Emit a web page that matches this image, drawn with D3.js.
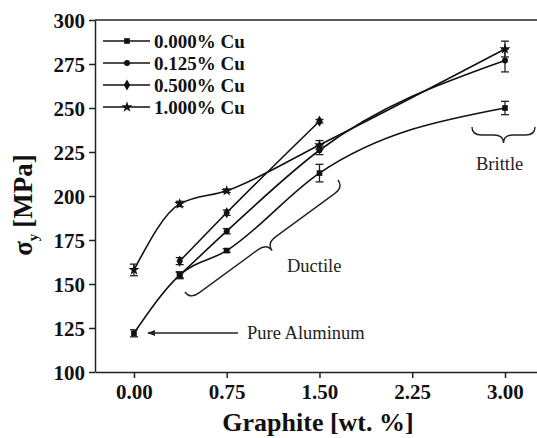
<!DOCTYPE html>
<html>
<head>
<meta charset="utf-8">
<script src="https://cdn.jsdelivr.net/npm/d3@7"></script>
<style>
  body { margin: 0; background: #fff; }
  svg { display: block; font-family: "Liberation Serif", "DejaVu Serif", serif; }
</style>
</head>
<body>
<svg width="537" height="438"></svg>
<script>
// values
const seriesNames = ["0.000% Cu", "0.125% Cu", "0.500% Cu", "1.000% Cu"];
const cu000X = [0, 0.37, 0.75, 1.5, 3.0];
const cu000Y = [122, 155, 169, 213, 250];
const cu000Err = [2, 1.5, 1, 5, 3.8];
const cu125X = [0.37, 0.75, 1.5, 3.0];
const cu125Y = [155, 180, 226, 277];
const cu125Err = [2, 1.5, 2.5, 6.5];
const cu500X = [0.37, 0.75, 1.5];
const cu500Y = [163, 190.5, 242.5];
const cu500Err = [2, 1.5, 1];
const cu100X = [0, 0.37, 0.75, 1.5, 3.0];
const cu100Y = [158, 195.5, 203, 229, 283.5];
const cu100Err = [3.3, 1.5, 1, 2.5, 4.5];
const xTicks = [0, 0.75, 1.5, 2.25, 3.0];
const yTicks = [100, 125, 150, 175, 200, 225, 250, 275, 300];

var svg = d3.select("svg");

var x = d3.scaleLinear().domain([-0.315, 3.283]).range([95, 540]);
var y = d3.scaleLinear().domain([100, 300]).range([372, 20]);

var symbols = [d3.symbolSquare, d3.symbolCircle, d3.symbolDiamond, d3.symbolStar];
var symSize = [32, 28, 36, 38];

var data = [
  [cu000X, cu000Y, cu000Err],
  [cu125X, cu125Y, cu125Err],
  [cu500X, cu500Y, cu500Err],
  [cu100X, cu100Y, cu100Err]
].map(function(s) {
  return s[0].map((v, i) => ({ x: v, y: s[1][i], e: s[2][i] }));
});

// frame (left, top) and axes
svg.append("line")
  .attr("x1", x.range()[0]).attr("x2", 537)
  .attr("y1", y(300)).attr("y2", y(300))
  .attr("stroke", "#222").attr("stroke-width", 1.5);

var yAxis = svg.append("g")
  .attr("transform", `translate(${x.range()[0]},0)`)
  .call(d3.axisLeft(y).tickValues(yTicks).tickSize(6).tickSizeOuter(0).tickPadding(4));

var xAxis = svg.append("g")
  .attr("transform", `translate(0,${y(100)})`)
  .call(d3.axisBottom(x).tickValues(xTicks).tickSize(6).tickSizeOuter(0).tickPadding(3)
    .tickFormat(d3.format(".2f")));

[xAxis, yAxis].forEach(function(a) {
  a.select(".domain").attr("stroke", "#222").attr("stroke-width", 1.5);
  a.selectAll(".tick line").attr("stroke", "#222").attr("stroke-width", 1.5);
  a.selectAll(".tick text")
    .attr("fill", "#111")
    .style("font-family", "Liberation Serif")
    .style("font-weight", "bold")
    .style("font-size", "21px");
});
yAxis.selectAll(".tick text").attr("dy", "0.36em");
xAxis.selectAll(".tick text").attr("dy", "0.85em");

// axis titles
svg.append("text")
  .attr("x", 318).attr("y", 431)
  .attr("text-anchor", "middle")
  .attr("font-weight", "bold")
  .attr("font-size", 26)
  .attr("fill", "#111")
  .text("Graphite [wt. %]");

var yl = svg.append("text")
  .attr("transform", "translate(32,205) rotate(-90)")
  .attr("text-anchor", "middle")
  .attr("font-weight", "bold")
  .attr("font-size", 27)
  .attr("fill", "#111");
yl.append("tspan").text("σ");
yl.append("tspan").attr("font-size", 15).attr("dy", 6).text("y");
yl.append("tspan").attr("dy", -6).attr("dx", 6).text("[MPa]");

// curves
var line = d3.line()
  .x(d => x(d.x))
  .y(d => y(d.y))
  .curve(d3.curveMonotoneX);

var series = svg.selectAll(".series")
  .data(data)
  .enter()
  .append("g")
  .attr("class", "series");

series.append("path")
  .attr("d", d => line(d))
  .attr("fill", "none")
  .attr("stroke", "#111")
  .attr("stroke-width", 1.6);

// error bars
series.each(function(s) {
  var g = d3.select(this);
  var eb = g.selectAll(".eb").data(s).enter().append("g").attr("class", "eb")
    .attr("stroke", "#222").attr("stroke-width", 1.3);
  eb.append("line")
    .attr("x1", d => x(d.x)).attr("x2", d => x(d.x))
    .attr("y1", d => y(d.y - d.e)).attr("y2", d => y(d.y + d.e));
  eb.append("line")
    .attr("x1", d => x(d.x) - 4).attr("x2", d => x(d.x) + 4)
    .attr("y1", d => y(d.y - d.e)).attr("y2", d => y(d.y - d.e));
  eb.append("line")
    .attr("x1", d => x(d.x) - 4).attr("x2", d => x(d.x) + 4)
    .attr("y1", d => y(d.y + d.e)).attr("y2", d => y(d.y + d.e));
});

// markers
series.each(function(s, i) {
  d3.select(this).selectAll(".mk").data(s).enter()
    .append("path")
    .attr("class", "mk")
    .attr("transform", d => `translate(${x(d.x)},${y(d.y)})`)
    .attr("d", d3.symbol().type(symbols[i]).size(symSize[i]))
    .attr("fill", "#111");
});

// legend
var legend = svg.append("g").attr("class", "legend");
var rows = legend.selectAll("g").data(seriesNames).enter().append("g")
  .attr("transform", (d, i) => `translate(0,${41 + i * 22})`);
rows.append("line")
  .attr("x1", 103).attr("x2", 150)
  .attr("stroke", "#111").attr("stroke-width", 1.5);
rows.append("path")
  .attr("transform", "translate(127,0)")
  .attr("d", (d, i) => d3.symbol().type(symbols[i]).size(symSize[i])())
  .attr("fill", "#111");
rows.append("text")
  .attr("x", 154).attr("dy", "0.35em")
  .attr("font-weight", "bold")
  .attr("font-size", 19)
  .attr("fill", "#111")
  .text(d => d);

// curly brace between two points, tip on the right-hand normal side
function brace(x1, y1, x2, y2, h) {
  var L = Math.hypot(x2 - x1, y2 - y1);
  var a = Math.atan2(y2 - y1, x2 - x1) * 180 / Math.PI;
  var m = L / 2, w = h * 0.6, hh = h / 2;
  var p = `M0,0 Q0,${hh} ${w},${hh} L${m - w},${hh} Q${m},${hh} ${m},${h}` +
    ` Q${m},${hh} ${m + w},${hh} L${L - w},${hh} Q${L},${hh} ${L},0`;
  svg.append("path")
    .attr("transform", `translate(${x1},${y1}) rotate(${a})`)
    .attr("d", p)
    .attr("fill", "none")
    .attr("stroke", "#222")
    .attr("stroke-width", 1.4);
}

brace(185, 292, 338, 180, 18);
brace(472, 127, 535, 127, 16);

// annotations
var ann = svg.append("g").attr("font-size", 18.5).attr("fill", "#222");
ann.append("text").attr("x", 287).attr("y", 272).text("Ductile");
ann.append("text").attr("x", 476).attr("y", 170).text("Brittle");
ann.append("text").attr("x", 247).attr("y", 339).text("Pure Aluminum");

svg.append("defs").append("marker")
  .attr("id", "arr")
  .attr("viewBox", "0 0 10 10")
  .attr("refX", 9).attr("refY", 5)
  .attr("markerWidth", 8).attr("markerHeight", 8)
  .attr("markerUnits", "userSpaceOnUse")
  .attr("orient", "auto")
  .append("path").attr("d", "M0,1 L10,5 L0,9 Z").attr("fill", "#222");

svg.append("line")
  .attr("x1", 238).attr("y1", 333)
  .attr("x2", 148).attr("y2", 333)
  .attr("stroke", "#222").attr("stroke-width", 1.3)
  .attr("marker-end", "url(#arr)");
</script>
</body>
</html>
